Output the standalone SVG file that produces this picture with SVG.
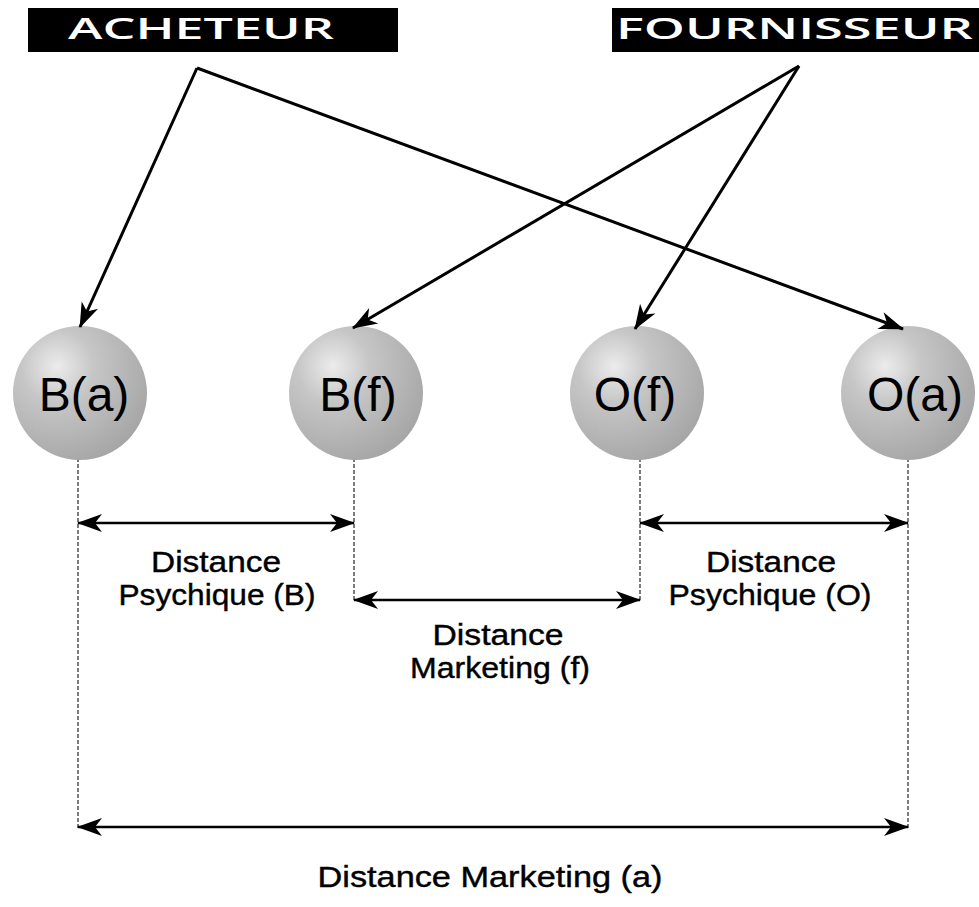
<svg xmlns="http://www.w3.org/2000/svg" width="979" height="907" viewBox="0 0 979 907">
  <style>
    .title { fill: #000; }
    .title-text { font-family: "Open Sans", "DejaVu Sans", sans-serif; font-weight: 600; font-size: 29px; fill: #fff; }
    .ball { fill: url(#ballShade); }
    .ball-text { font-family: "Liberation Sans", Arial, sans-serif; font-size: 48px; fill: #000; text-anchor: middle; }
    .label { font-family: "Liberation Sans", Arial, sans-serif; font-size: 29px; fill: #000; stroke: #000; stroke-width: 0.4; text-anchor: middle; }
    .link { stroke: #000; stroke-width: 3; fill: none; marker-end: url(#head); }
    .span { stroke: #000; stroke-width: 2.6; fill: none; marker-start: url(#head); marker-end: url(#head); }
    .guide { stroke: #111; stroke-width: 1.1; stroke-dasharray: 4 2; fill: none; }
  </style>
  <defs>
    <radialGradient id="ballShade" cx="0.33" cy="0.3" r="0.78">
      <stop offset="0" stop-color="#ececec"/>
      <stop offset="0.35" stop-color="#c6c6c6"/>
      <stop offset="1" stop-color="#a4a4a4"/>
    </radialGradient>
    <marker id="head" viewBox="-26 -10 28 20" refX="0" refY="0" markerWidth="28" markerHeight="20" markerUnits="userSpaceOnUse" orient="auto-start-reverse">
      <path d="M1,0 L-24,-9 L-17,0 L-24,9 Z" fill="#000"/>
    </marker>
  </defs>

  <rect width="979" height="907" fill="#fff"/>

  <!-- party headers -->
  <g id="acheteur">
    <rect class="title" x="28" y="8" width="370" height="44"/>
    <text class="title-text" x="68" y="39" textLength="266" lengthAdjust="spacingAndGlyphs">ACHETEUR</text>
  </g>
  <g id="fournisseur">
    <rect class="title" x="612" y="8" width="367" height="44"/>
    <text class="title-text" x="616" y="39" textLength="357" lengthAdjust="spacingAndGlyphs">FOURNISSEUR</text>
  </g>

  <!-- dashed guides under each ball -->
  <g id="guides">
    <line class="guide" x1="78" y1="458" x2="78" y2="828"/>
    <line class="guide" x1="354" y1="458" x2="354" y2="601"/>
    <line class="guide" x1="640" y1="458" x2="640" y2="601"/>
    <line class="guide" x1="908" y1="458" x2="908" y2="828"/>
  </g>

  <!-- balls -->
  <g id="node-ba">
    <circle class="ball" cx="80" cy="393" r="67"/>
    <text class="ball-text" x="84" y="411">B(a)</text>
  </g>
  <g id="node-bf">
    <circle class="ball" cx="356" cy="393" r="67"/>
    <text class="ball-text" x="358" y="411">B(f)</text>
  </g>
  <g id="node-of">
    <circle class="ball" cx="637" cy="393" r="67"/>
    <text class="ball-text" x="635" y="411">O(f)</text>
  </g>
  <g id="node-oa">
    <circle class="ball" cx="908" cy="393" r="67"/>
    <text class="ball-text" x="915" y="411">O(a)</text>
  </g>

  <!-- connectors -->
  <g id="connectors">
    <polyline class="link" points="197,68 80,327"/>
    <polyline class="link" points="197,68 903,329"/>
    <polyline class="link" points="799,66 353,328"/>
    <polyline class="link" points="799,66 635,329"/>
    <line class="span" x1="78" y1="523" x2="354" y2="523"/>
    <line class="span" x1="640" y1="523" x2="908" y2="523"/>
    <line class="span" x1="354" y1="600" x2="640" y2="600"/>
    <line class="span" x1="78" y1="827" x2="908" y2="827"/>
  </g>

  <!-- distance labels -->
  <g id="label-psy-b">
    <text class="label" x="216" y="572" textLength="130" lengthAdjust="spacingAndGlyphs">Distance</text>
    <text class="label" x="217" y="605" textLength="197" lengthAdjust="spacingAndGlyphs">Psychique (B)</text>
  </g>
  <g id="label-mkt-f">
    <text class="label" x="498" y="645" textLength="131" lengthAdjust="spacingAndGlyphs">Distance</text>
    <text class="label" x="500" y="678" textLength="180" lengthAdjust="spacingAndGlyphs">Marketing (f)</text>
  </g>
  <g id="label-psy-o">
    <text class="label" x="771" y="572" textLength="130" lengthAdjust="spacingAndGlyphs">Distance</text>
    <text class="label" x="770" y="605" textLength="203" lengthAdjust="spacingAndGlyphs">Psychique (O)</text>
  </g>
  <g id="label-mkt-a">
    <text class="label" x="490" y="887" textLength="345" lengthAdjust="spacingAndGlyphs">Distance Marketing (a)</text>
  </g>
</svg>
